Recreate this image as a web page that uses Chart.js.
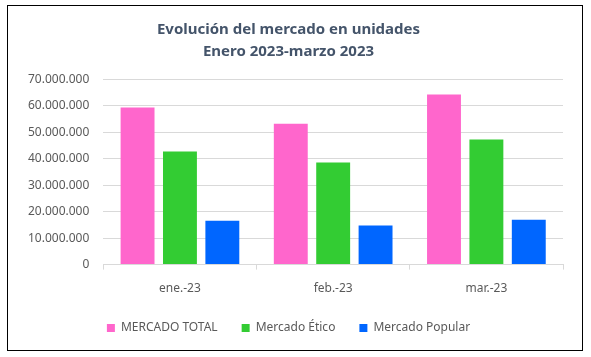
<!DOCTYPE html>
<html>
<head>
<meta charset="utf-8">
<script src="https://cdn.jsdelivr.net/npm/chart.js@4"></script>
<style>
html,body{margin:0;padding:0;background:#fff;}
#box{position:absolute;left:7px;top:5px;width:576px;height:346px;border:1px solid #000;box-sizing:border-box;}
#c{display:block;}
</style>
</head>
<body>
<div id="box"><canvas id="c"></canvas></div>
<script>
const categories = ["ene.-23", "feb.-23", "mar.-23"];
const mercadoTotal = [59400000, 53300000, 64300000];
const mercadoEtico = [42800000, 38600000, 47300000];
const mercadoPopular = [16600000, 14800000, 17000000];
const yTicks = [0, 10000000, 20000000, 30000000, 40000000, 50000000, 60000000, 70000000];
const titleLines = ["Evolución del mercado en unidades", "Enero 2023-marzo 2023"];

function fmt(v){ return String(Math.round(v)).replace(/\B(?=(\d{3})+(?!\d))/g, "."); }

const font = "'Noto Sans', 'Open Sans', sans-serif";
new Chart(document.getElementById('c'), {
  type: 'bar',
  data: {
    labels: categories,
    datasets: [
      {label: 'MERCADO TOTAL', data: mercadoTotal, backgroundColor: '#FF66CC'},
      {label: 'Mercado Ético', data: mercadoEtico, backgroundColor: '#33CC33'},
      {label: 'Mercado Popular', data: mercadoPopular, backgroundColor: '#0066FF'}
    ]
  },
  options: {
    responsive: true,
    maintainAspectRatio: false,
    animation: false,
    datasets: {bar: {categoryPercentage: 0.83, barPercentage: 0.8}},
    layout: {padding: {left: 6, right: 19, top: 5, bottom: 6}},
    plugins: {
      title: {
        display: true,
        text: titleLines,
        color: '#44546A',
        font: {family: font, size: 15, weight: 'bold', lineHeight: 1.45},
        padding: {top: 8, bottom: 17}
      },
      legend: {
        position: 'bottom',
        labels: {
          boxWidth: 8, boxHeight: 8, color: '#595959',
          font: {family: font, size: 12},
          padding: 24
        }
      },
      tooltip: {enabled: false}
    },
    scales: {
      x: {
        afterFit: (scale) => { scale.height -= 10; },
        grid: {display: true, drawOnChartArea: false, drawTicks: true, tickLength: 5, color: '#D9D9D9'},
        border: {color: '#D9D9D9'},
        ticks: {color: '#595959', font: {family: font, size: 12}, padding: 12}
      },
      y: {
        min: 0, max: 70000000,
        afterBuildTicks: (axis) => { axis.ticks = yTicks.map(v => ({value: v})); },
        grid: {color: '#D9D9D9', drawTicks: false},
        border: {display: false},
        ticks: {color: '#595959', font: {family: font, size: 12}, padding: 14, callback: (v) => fmt(v)}
      }
    }
  }
});
</script>
</body>
</html>
